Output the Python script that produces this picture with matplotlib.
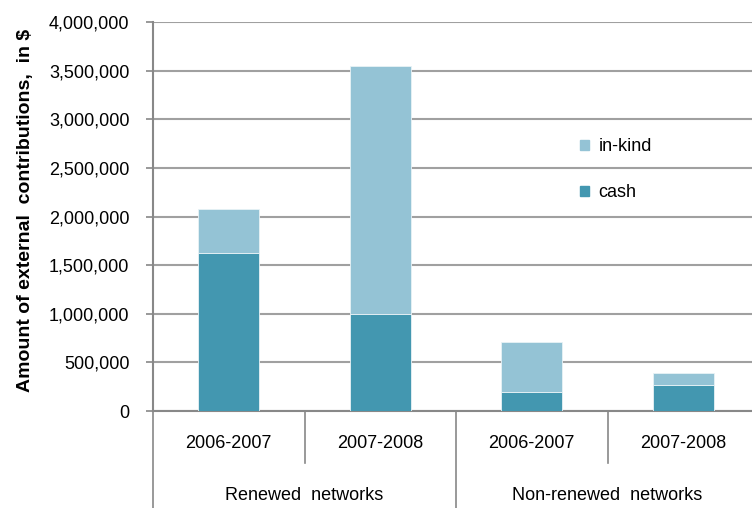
import matplotlib
matplotlib.use("Agg")
import matplotlib.pyplot as plt
from matplotlib.ticker import FuncFormatter, MultipleLocator
from matplotlib.patches import Patch
from matplotlib.lines import Line2D
import matplotlib.transforms as mtransforms

plt.rcParams['font.family'] = ['Liberation Sans', 'DejaVu Sans']

years = ["2006-2007", "2007-2008", "2006-2007", "2007-2008"]
groups = ["Renewed  networks", "Non-renewed  networks"]
cash = [1620000, 995000, 195000, 270000]
in_kind = [460000, 2550000, 510000, 125000]

c_cash = "#4397b0"
c_kind = "#94c3d5"
grid_c = "#a0a0a0"
axis_c = "#888888"

W, H = 752, 508
fig = plt.figure(figsize=(W/100, H/100), dpi=100)
ax = fig.add_axes([153/W, (H-411)/H, (759-153)/W, 389/H])

x = list(range(len(years)))
ax.bar(x, cash, width=0.4, color=c_cash, edgecolor="#e8f2f6", linewidth=0.6, zorder=3, label="cash")
ax.bar(x, in_kind, bottom=cash, width=0.4, color=c_kind, edgecolor="#e8f2f6", linewidth=0.6, zorder=3, label="in-kind")

ax.set_xlim(-0.5, 3.5)
ax.set_ylim(0, 4000000)
ax.yaxis.set_major_locator(MultipleLocator(500000))
ax.yaxis.set_major_formatter(FuncFormatter(lambda v, p: f"{int(v):,}"))
ax.grid(axis='y', color=grid_c, linewidth=1.5, zorder=0)
ax.set_axisbelow(True)

for s in ['top', 'right']:
    ax.spines[s].set_visible(False)
for s in ['left', 'bottom']:
    ax.spines[s].set_color(axis_c)
    ax.spines[s].set_linewidth(1.5)

ax.tick_params(axis='y', length=5, width=1.2, color=axis_c, labelsize=13, pad=12)
ax.set_xticks(x)
ax.set_xticklabels(years, fontsize=13)
ax.tick_params(axis='x', length=0, pad=17)

ax.set_ylabel("Amount of external  contributions,  in $", fontsize=14, fontweight='bold')
ax.yaxis.set_label_coords(-(153-34)/606, 0.515)

trans = mtransforms.blended_transform_factory(ax.transData, ax.transAxes)
ax_h = 389
short = -52/ax_h
long_ = -100/ax_h
for xd, y1 in [(-0.5, long_), (0.5, short), (1.5, long_), (2.5, short)]:
    ax.add_line(Line2D([xd, xd], [0, y1], transform=trans, color=axis_c, linewidth=1.2, clip_on=False))

for gx, g in zip([0.5, 2.5], groups):
    ax.text(gx, -84/ax_h, g, transform=trans, ha='center', va='center', fontsize=13)

handles = [Patch(color=c_kind, label="in-kind"), Patch(color=c_cash, label="cash")]
ax.legend(handles=handles, loc='upper left', bbox_to_anchor=((564-153)/606, (411-122)/389),
          frameon=False, fontsize=13, handlelength=0.5, handleheight=0.5, handletextpad=0.5,
          labelspacing=1.6)

fig.savefig("out.png", dpi=100)
